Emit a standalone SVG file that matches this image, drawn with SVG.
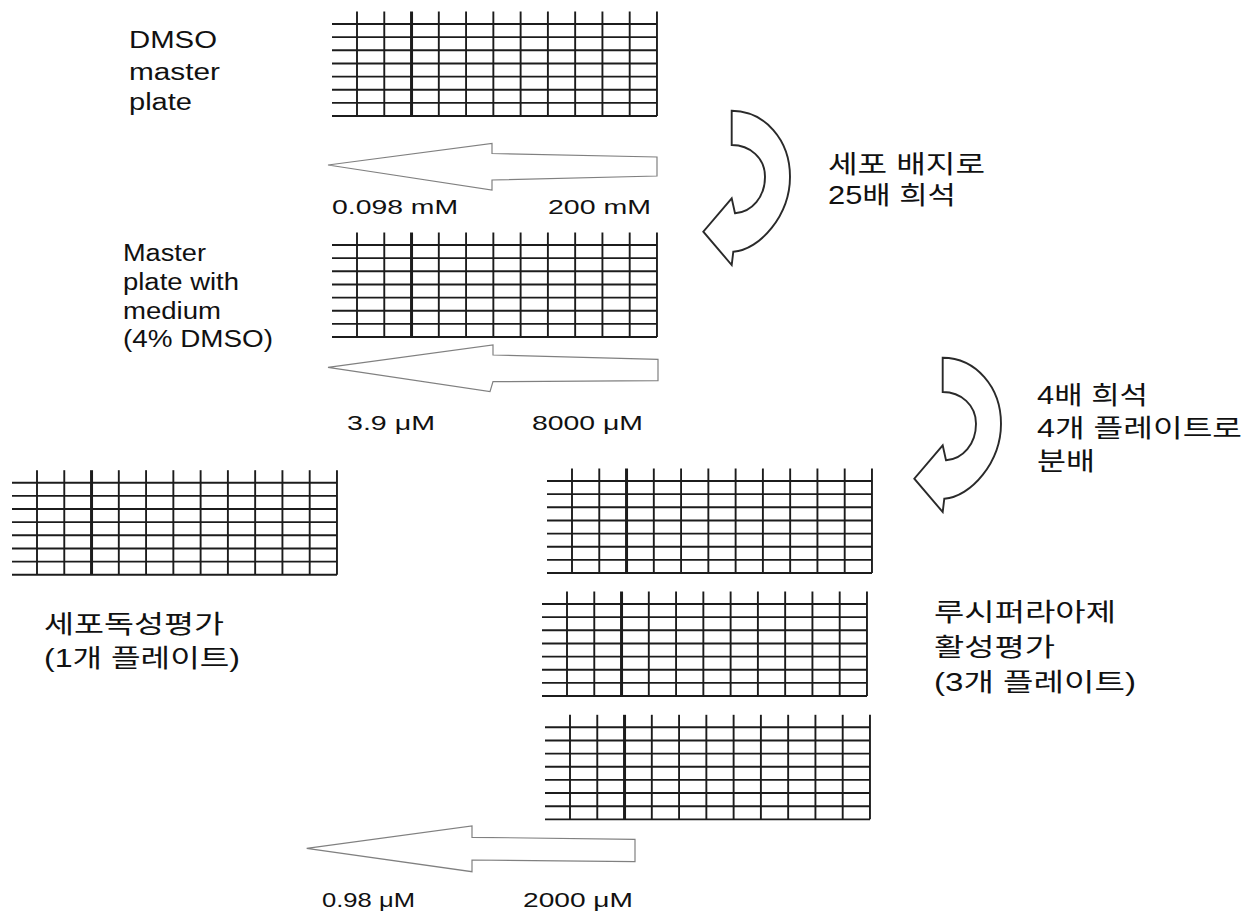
<svg xmlns="http://www.w3.org/2000/svg" width="1255" height="911" viewBox="0 0 1255 911">
<style>
.g line{stroke:#1c1c1c;stroke-width:1.9}
.g .tk{stroke-width:3}
.sa{fill:#fff;stroke:#808080;stroke-width:1.2;stroke-linejoin:miter}
.ca{fill:#fff;stroke:#2a2a2a;stroke-width:1.9;stroke-linejoin:miter}
.lat{font-family:"Liberation Sans",Arial,sans-serif;font-size:23.5px;fill:#111}
.lab{font-family:"Liberation Sans",Arial,sans-serif;font-size:21px;fill:#111}
.kr{font-family:"Liberation Sans","Noto Sans CJK KR",sans-serif;font-size:25px;fill:#111}
</style>
<defs>
<g id="plate" class="g">
<line x1="0" y1="12.5" x2="325" y2="12.5"/>
<line x1="0" y1="25.65" x2="325" y2="25.65"/>
<line x1="0" y1="38.8" x2="325" y2="38.8"/>
<line x1="0" y1="51.95" x2="325" y2="51.95"/>
<line x1="0" y1="65.1" x2="325" y2="65.1"/>
<line x1="0" y1="78.25" x2="325" y2="78.25"/>
<line x1="0" y1="91.4" x2="325" y2="91.4"/>
<line x1="0" y1="104.55" x2="325" y2="104.55"/>
<line x1="25" y1="0" x2="25" y2="104.55"/>
<line x1="52.27" y1="0" x2="52.27" y2="104.55"/>
<line class="tk" x1="79.54" y1="0" x2="79.54" y2="104.55"/>
<line x1="106.81" y1="0" x2="106.81" y2="104.55"/>
<line x1="134.08" y1="0" x2="134.08" y2="104.55"/>
<line x1="161.35" y1="0" x2="161.35" y2="104.55"/>
<line x1="188.62" y1="0" x2="188.62" y2="104.55"/>
<line x1="215.89" y1="0" x2="215.89" y2="104.55"/>
<line x1="243.16" y1="0" x2="243.16" y2="104.55"/>
<line x1="270.43" y1="0" x2="270.43" y2="104.55"/>
<line x1="297.7" y1="0" x2="297.7" y2="104.55"/>
<line x1="324.97" y1="0" x2="324.97" y2="104.55"/>
</g>
<path id="uturn" class="ca" d="M731.7,110.7 L731.7,145 C750,145 765,158 765,176.7 C765,197 752,212 735,213.3 L731.7,198.3 L703.3,231.7 L731.7,265 L733.3,251.7 C760,250 790,215 790,176.7 C790,140 765,111 731.7,110.7 Z"/>
</defs>

<g id="dmso-master-plate">
<use href="#plate" transform="translate(332,11.5)"/>
<text class="lat" x="129" y="48" textLength="88" lengthAdjust="spacingAndGlyphs">DMSO</text>
<text class="lat" x="129" y="79.5" textLength="91" lengthAdjust="spacingAndGlyphs">master</text>
<text class="lat" x="129" y="110" textLength="63" lengthAdjust="spacingAndGlyphs">plate</text>
</g>

<g id="master-plate-medium">
<use href="#plate" transform="translate(332,232.5)"/>
<text class="lat" x="123" y="261" textLength="83" lengthAdjust="spacingAndGlyphs">Master</text>
<text class="lat" x="123" y="290" textLength="116" lengthAdjust="spacingAndGlyphs">plate with</text>
<text class="lat" x="123" y="319" textLength="98" lengthAdjust="spacingAndGlyphs">medium</text>
<text class="lat" x="123" y="347" textLength="150" lengthAdjust="spacingAndGlyphs">(4% DMSO)</text>
</g>

<g id="cytotoxicity-plate">
<use href="#plate" transform="translate(12,470.2)"/>
<text class="kr" x="44" y="633" textLength="180" lengthAdjust="spacingAndGlyphs">세포독성평가</text>
<text class="kr" x="44" y="667" textLength="196" lengthAdjust="spacingAndGlyphs">(1개 플레이트)</text>
</g>

<g id="luciferase-plates">
<use href="#plate" transform="translate(547,468.5)"/>
<use href="#plate" transform="translate(542,591.5)"/>
<use href="#plate" transform="translate(545,714.8)"/>
<text class="kr" x="934" y="621" textLength="182" lengthAdjust="spacingAndGlyphs">루시퍼라아제</text>
<text class="kr" x="934" y="656" textLength="121" lengthAdjust="spacingAndGlyphs">활성평가</text>
<text class="kr" x="934" y="691" textLength="202" lengthAdjust="spacingAndGlyphs">(3개 플레이트)</text>
</g>

<g id="connectors">
<g id="gradient-1">
<polygon class="sa" points="328,165 492,143.5 492,153.5 657,157 657,176 492,180 492,190"/>
<text class="lab" x="332" y="214" textLength="126" lengthAdjust="spacingAndGlyphs">0.098 mM</text>
<text class="lab" x="548" y="214" textLength="103" lengthAdjust="spacingAndGlyphs">200 mM</text>
</g>
<g id="gradient-2">
<polygon class="sa" points="328,367.3 493,345 493,355 658,359.3 658,380.7 493,381.7 490,391.7"/>
<text class="lab" x="347" y="430" textLength="88" lengthAdjust="spacingAndGlyphs">3.9 μM</text>
<text class="lab" x="532" y="430" textLength="111" lengthAdjust="spacingAndGlyphs">8000 μM</text>
</g>
<g id="gradient-3">
<polygon class="sa" points="306.7,848.3 472,826 472,837.3 635,839.3 635,861.7 472,860 472,871.7"/>
<text class="lab" x="322" y="907" textLength="93" lengthAdjust="spacingAndGlyphs">0.98 μM</text>
<text class="lab" x="523" y="907" textLength="110" lengthAdjust="spacingAndGlyphs">2000 μM</text>
</g>
<g id="dilution-25x">
<use href="#uturn"/>
<text class="kr" x="828" y="173" textLength="157" lengthAdjust="spacingAndGlyphs">세포 배지로</text>
<text class="kr" x="828" y="204" textLength="128" lengthAdjust="spacingAndGlyphs">25배 희석</text>
</g>
<g id="dilution-4x">
<use href="#uturn" transform="translate(211,247)"/>
<text class="kr" x="1037" y="404" textLength="111" lengthAdjust="spacingAndGlyphs">4배 희석</text>
<text class="kr" x="1037" y="437" textLength="205" lengthAdjust="spacingAndGlyphs">4개 플레이트로</text>
<text class="kr" x="1037" y="470" textLength="58" lengthAdjust="spacingAndGlyphs">분배</text>
</g>
</g>
</svg>
